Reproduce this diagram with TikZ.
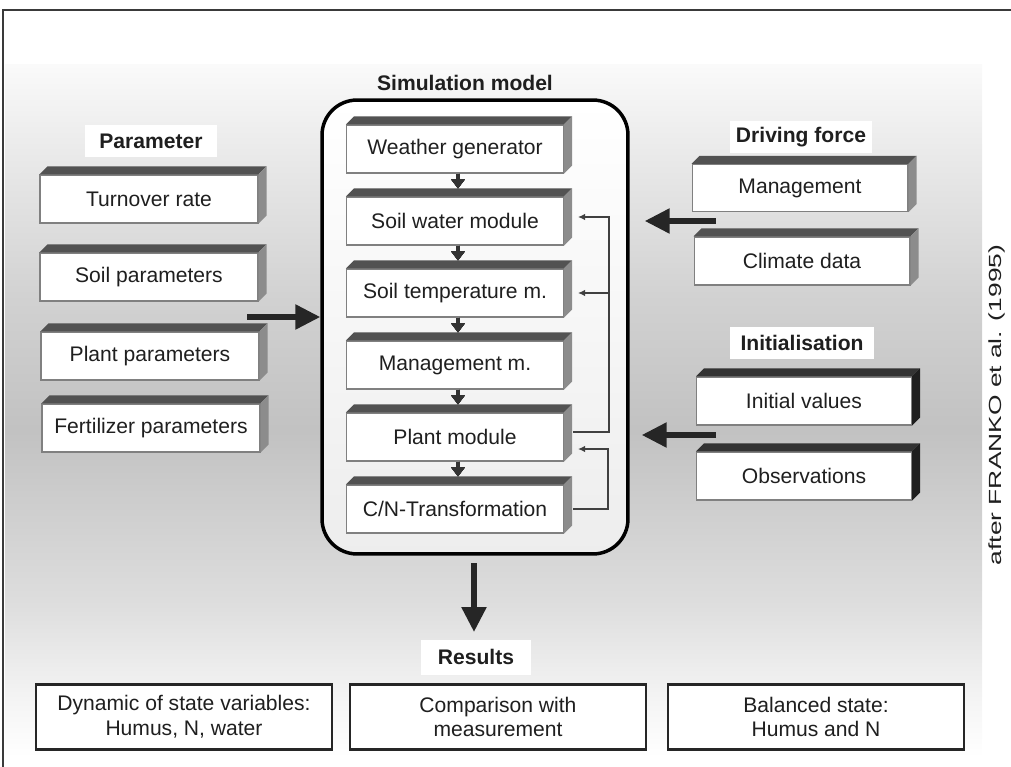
\documentclass[tikz,border=0pt]{standalone}
\usepackage{fontspec}
\setmainfont{Liberation Sans}
\usetikzlibrary{arrows.meta,calc}
\definecolor{frame-gray}{HTML}{3A3A3A}
\pgfdeclareverticalshading{bgshade}{100bp}{color(0bp)=(white); color(25bp)=(white);
  color(29bp)=(black!4); color(36bp)=(black!13); color(48.6bp)=(black!24);
  color(58bp)=(black!18); color(69bp)=(black!8); color(75bp)=(black!2); color(100bp)=(black!2)}
% top and side face of a 3D box
\newcommand{\cubefaces}[3]{%
  \fill[#2] (#1.north west) -- ++(8,-8) -- ($(#1.north east)+(8,-8)$) -- (#1.north east) -- cycle;
  \fill[#3] (#1.north east) -- ++(8,-8) -- ($(#1.south east)+(8,-8)$) -- (#1.south east) -- cycle;}

\begin{document}
\begin{tikzpicture}[x=0.02cm, y=-0.02cm,
    every node/.style={font=\fontsize{12}{14}\selectfont, text=black!88},
    cube/.style={draw=black!50, line width=0.6pt, fill=white, minimum width=4.34cm,
      minimum height=0.96cm, inner sep=0pt},
    tag/.style={fill=white, font=\fontsize{12}{14}\selectfont\bfseries, inner sep=0pt,
      minimum height=0.66cm},
    resbox/.style={draw=black!85, line width=0.05cm, fill=white, minimum width=5.92cm,
      minimum height=1.3cm, align=center},
    bigarrow/.style={-{Triangle[length=0.5cm,width=0.48cm]}, line width=0.11cm, black!85},
    modarrow/.style={-{Triangle[length=0.18cm,width=0.26cm]}, line width=0.08cm, black!80},
    fbarrow/.style={-{Latex[length=0.14cm,width=0.13cm]}, line width=0.04cm, black!75}]
  \useasboundingbox (0,0) rectangle (1011,767);
  \shade[shading=bgshade] (5,65) rectangle (982,757);
  \draw[frame-gray, line width=0.04cm] (3,767) -- (3,10) -- (1011,10);

  % simulation model
  \node[font=\fontsize{12}{14}\selectfont\bfseries] (simtitle) at (465,83) {Simulation model};
  \node[draw=black, line width=0.07cm, rounded corners=0.7cm, minimum width=6.12cm,
    minimum height=9.08cm, top color=white, bottom color=black!7] (sim) at (475,327) {};
  \node[cube] (weather) at (455,149) {Weather generator};
  \node[cube] (swater)  at (455,221) {Soil water module};
  \node[cube] (stemp)   at (455,293) {Soil temperature m.};
  \node[cube] (mgmt)    at (455,365) {Management m.};
  \node[cube] (plantm)  at (455,437) {Plant module};
  \node[cube] (cntrans) at (455,509) {C/N-Transformation};
  \foreach \n in {weather,swater,stemp,mgmt,plantm,cntrans}
    \cubefaces{\n}{black!68}{black!45}
  \foreach \a/\b in {weather/swater,swater/stemp,stemp/mgmt,mgmt/plantm,plantm/cntrans}
    \draw[modarrow] ($(\a.south)+(3,0)$) -- ($(\b.north)+(3,-8)$);

  % feedback loops
  \coordinate (fbx) at (608,0);
  \draw[fbarrow] ($(plantm.east)+(9,-5)$) -- ++(36,0) |- ($(swater.east)+(14,-4)$);
  \draw[fbarrow] (fbx |- stemp.east) -- ($(stemp.east)+(14,0)$);
  \draw[fbarrow] ($(cntrans.east)+(9,0)$) -- (fbx |- cntrans.east) |- ($(plantm.east)+(14,12)$);

  % parameter
  \node[tag, minimum width=2.64cm] (partag) at (151,141) {Parameter};
  \node[cube, minimum width=4.36cm] (turnover) at (149,199) {Turnover rate};
  \node[cube, minimum width=4.36cm] (soilpar)  at (149,277) {Soil parameters};
  \node[cube, minimum width=4.36cm] (plantpar) at (150,356) {Plant parameters};
  \node[cube, minimum width=4.36cm] (fertpar)  at (151,428) {Fertilizer parameters};
  \foreach \n in {turnover,soilpar,plantpar,fertpar}
    \cubefaces{\n}{black!68}{black!45}
  \coordinate (parin) at (247,317);
  \draw[bigarrow] (parin) -- (parin -| sim.west);

  % driving force
  \node[tag, minimum width=2.86cm] (drvtag) at (801,137) {Driving force};
  \node[cube, minimum width=4.32cm, minimum height=0.94cm] (mgmtin)  at (800,188) {Management};
  \node[cube, minimum width=4.32cm] (climate) at (802,261) {Climate data};
  \foreach \n in {mgmtin,climate}
    \cubefaces{\n}{black!68}{black!45}
  \coordinate (drvin) at (716,221);
  \draw[bigarrow] (drvin) -- ($(sim.east |- drvin)+(15,0)$);

  % initialisation
  \node[tag, minimum width=2.9cm] (inittag) at (802,343) {Initialisation};
  \node[cube, minimum width=4.3cm] (initval) at (804,401) {Initial values};
  \node[cube, minimum width=4.3cm] (observ)  at (804,476) {Observations};
  \foreach \n in {initval,observ}
    \cubefaces{\n}{black!80}{black!88}
  \coordinate (initin) at (716,435);
  \draw[bigarrow] (initin) -- ($(sim.east |- initin)+(12,0)$);

  % results
  \coordinate (simout) at (474,563);
  \draw[bigarrow] (simout) -- ++(0,69);
  \node[tag, minimum width=2.22cm, minimum height=0.7cm] (restag) at (476,657) {Results};
  \node[resbox] (res1) at (184,717) {Dynamic of state variables:\\Humus, N, water};
  \node[resbox] (res2) at (498,717) {Comparison with\\measurement};
  \node[resbox] (res3) at (816,717) {Balanced state:\\Humus and N};

  \node[rotate=90, font=\fontsize{10}{12}\selectfont] (source) at (997,405)
    {\scalebox{1.5}[1]{after FRANKO et al. (1995)}};
\end{tikzpicture}
\end{document}
